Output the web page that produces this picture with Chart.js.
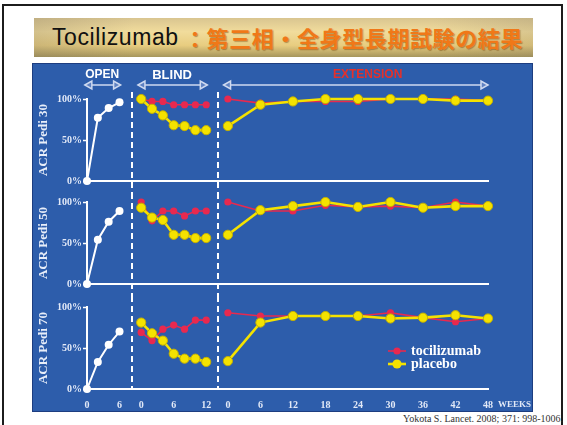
<!DOCTYPE html>
<html lang="ja">
<head>
<meta charset="utf-8">
<title>Tocilizumab：第三相・全身型長期試験の結果</title>
<script src="https://cdn.jsdelivr.net/npm/chart.js@4.4.1/dist/chart.umd.min.js"></script>
<style>
  html, body { margin: 0; padding: 0; background: #fff; }
  body { width: 567px; height: 425px; position: relative; overflow: hidden; }
  .frame {
    position: absolute; left: 2px; top: 4px; width: 557px; height: 460px;
    border: 2px solid #1c1c1c;
  }
  .banner {
    position: absolute; left: 34px; top: 18px; width: 499px; height: 39px;
    background:
      linear-gradient(to right, rgba(120,110,90,0.25), rgba(255,255,255,0) 20%, rgba(255,255,255,0) 80%, rgba(120,110,90,0.2)),
      linear-gradient(to bottom, #d9c590 0%, #f1dc9c 35%, #e8cd80 70%, #a6965c 100%);
    white-space: nowrap; line-height: 39px;
  }
  .banner .en {
    position: absolute; left: 18px; top: 0;
    font-family: "Liberation Sans", Arial, sans-serif; font-size: 23px; letter-spacing: 0.6px; color: #111;
  }
  .banner .ja {
    position: absolute; left: 150px; top: 0;
    font-family: "Noto Sans CJK JP", sans-serif; font-weight: 700; font-size: 22px; letter-spacing: 0.6px; color: #f07818;
    text-shadow: 1px 1px 1px rgba(110,60,0,0.45);
  }
  .panel {
    position: absolute; left: 32px; top: 63px; width: 501px; height: 349px;
    background: #2d5dab; border: 1px solid #1d3d80; box-sizing: border-box;
  }
  canvas { position: absolute; left: 32px; }
  #acr30 { top: 63px; }
  #acr50 { top: 193px; }
  #acr70 { top: 296px; }
  .cite {
    position: absolute; right: 4px; top: 413px;
    font-family: "Liberation Serif", serif; font-size: 10px; color: #333;
  }
</style>
</head>
<body>
<div class="frame"></div>
<div class="banner"><span class="en">Tocilizumab</span><span class="ja">：第三相・全身型長期試験の結果</span></div>
<div class="panel"></div>
<canvas id="acr30" width="501" height="130"></canvas>
<canvas id="acr50" width="501" height="103"></canvas>
<canvas id="acr70" width="501" height="116"></canvas>
<div class="cite">Yokota S. Lancet. 2008; 371: 998-1006.</div>

<script>
// Weeks sampled in each phase
const OPEN_WEEKS  = [0, 2, 4, 6];
const BLIND_WEEKS = [0, 2, 4, 6, 8, 10, 12];
const EXT_WEEKS   = [0, 6, 12, 18, 24, 30, 36, 42, 48];

// Tick labels under each phase
const OPEN_TICKS  = [0, 6];
const BLIND_TICKS = [0, 6, 12];
const EXT_TICKS   = [0, 6, 12, 18, 24, 30, 36, 42, 48];
const PERCENT_TICKS = [0, 50, 100];

const PHASE_NAMES  = ['OPEN', 'BLIND', 'EXTENSION'];
const SERIES_NAMES = ['tocilizumab', 'placebo'];
const PANEL_TITLES = ['ACR Pedi 30', 'ACR Pedi 50', 'ACR Pedi 70'];

// ACR Pedi 30 (%)
const ACR30_OPEN      = [0, 77, 89, 96];
const ACR30_BLIND_TCZ = [100, 97, 97, 93, 93, 93, 93];
const ACR30_BLIND_PBO = [100, 88, 80, 68, 67, 62, 62];
const ACR30_EXT_TCZ   = [100, 95, 97, 97, 97, 100, 100, 100, 98];
const ACR30_EXT_PBO   = [67, 93, 97, 100, 100, 100, 100, 98, 98];

// ACR Pedi 50 (%)
const ACR50_OPEN      = [0, 54, 76, 89];
const ACR50_BLIND_TCZ = [100, 77, 89, 89, 83, 89, 89];
const ACR50_BLIND_PBO = [93, 81, 78, 60, 60, 56, 56];
const ACR50_EXT_TCZ   = [100, 89, 89, 96, 94, 95, 93, 100, 95];
const ACR50_EXT_PBO   = [60, 90, 95, 100, 94, 100, 93, 95, 95];

// ACR Pedi 70 (%)
const ACR70_OPEN      = [0, 33, 54, 70];
const ACR70_BLIND_TCZ = [69, 59, 73, 78, 73, 84, 84];
const ACR70_BLIND_PBO = [81, 68, 59, 43, 37, 37, 33];
const ACR70_EXT_TCZ   = [93, 89, 89, 89, 89, 93, 87, 82, 86];
const ACR70_EXT_PBO   = [34, 81, 89, 89, 89, 86, 87, 90, 86];

// the three phases share one x axis; week 0 of each phase sits here
const PHASE_START = [0, 10, 26];
const X_MAX = 74;
const DIVIDERS = [8.3, 24.2];

const RED    = '#e8294f';
const YELLOW = '#f4e200';
const WHITE  = '#ffffff';
const LABEL  = '#e2e9f7';
const SERIF  = "'Liberation Serif', 'DejaVu Serif', serif";
const SANS   = "'Liberation Sans', Arial, sans-serif";

const xTickLabels = new Map();
[OPEN_TICKS, BLIND_TICKS, EXT_TICKS].forEach((ticks, i) => {
  ticks.forEach(w => xTickLabels.set(w + PHASE_START[i], String(w)));
});

function pts(weeks, values, phase) {
  return weeks.map((w, i) => ({ x: w + PHASE_START[phase], y: values[i] }));
}

function redSet(data) {
  return { label: SERIES_NAMES[0], data, borderColor: RED, backgroundColor: RED, borderWidth: 1.6,
           pointRadius: 3.6, pointBorderWidth: 0, order: 2, clip: false };
}
function yellowSet(data) {
  return { label: SERIES_NAMES[1], data, borderColor: YELLOW, backgroundColor: YELLOW, borderWidth: 2.6,
           pointRadius: 4.6, pointBorderWidth: 1, pointBorderColor: '#c4b000', order: 1, clip: false };
}
function whiteSet(data) {
  return { label: PHASE_NAMES[0], data, borderColor: WHITE, backgroundColor: WHITE, borderWidth: 2,
           pointRadius: 4, pointBorderWidth: 0, order: 0, clip: false };
}

function drawArrow(ctx, x1, x2, y) {
  const head = 7, half = 4;
  ctx.beginPath();
  ctx.moveTo(x1 + head, y); ctx.lineTo(x2 - head, y);
  ctx.stroke();
  [[x1, 1], [x2, -1]].forEach(([tip, dir]) => {
    ctx.beginPath();
    ctx.moveTo(tip, y);
    ctx.lineTo(tip + dir * head, y - half);
    ctx.lineTo(tip + dir * head, y + half);
    ctx.closePath();
    ctx.fill(); ctx.stroke();
  });
}

const panelDecor = {
  id: 'panelDecor',
  beforeDatasetsDraw(chart, args, opts) {
    const { ctx, chartArea, scales: { x } } = chart;
    ctx.save();
    ctx.strokeStyle = WHITE;
    ctx.lineWidth = 2;
    ctx.setLineDash([6, 4]);
    DIVIDERS.forEach(v => {
      const px = Math.round(x.getPixelForValue(v));
      ctx.beginPath();
      ctx.moveTo(px, opts.dividerTop);
      ctx.lineTo(px, opts.toAxis ? chartArea.bottom : chart.height);
      ctx.stroke();
    });
    ctx.restore();
  },
  afterDraw(chart, args, opts) {
    const { ctx, chartArea, scales: { x } } = chart;
    ctx.save();

    if (opts.headers) {
      const spans = [[-0.4, 6.2, 2.8], [9.4, 22.2, 15.7], [25.2, X_MAX, 51.8]];
      spans.forEach(([from, to, at], i) => {
        ctx.font = `bold ${i === 1 ? 13 : 12}px ${SANS}`;
        ctx.fillStyle = i === 2 ? '#e5302a' : WHITE;
        ctx.textAlign = 'center';
        ctx.textBaseline = 'middle';
        ctx.fillText(PHASE_NAMES[i], x.getPixelForValue(at), 12);
        ctx.strokeStyle = '#cfdaf0';
        ctx.fillStyle = '#5f82c2';
        ctx.lineWidth = 1.5;
        drawArrow(ctx, x.getPixelForValue(from), x.getPixelForValue(to), 22);
      });
    }

    if (opts.legend) {
      const lx = 356, rows = [55, 68];
      chart.data.datasets.filter(d => d.order > 0).slice(-2)
        .sort((a, b) => b.order - a.order)
        .forEach((d, i) => {
          const y = rows[i];
          ctx.strokeStyle = d.borderColor;
          ctx.lineWidth = d.borderWidth;
          ctx.beginPath(); ctx.moveTo(lx, y); ctx.lineTo(lx + 18, y); ctx.stroke();
          ctx.fillStyle = d.backgroundColor;
          ctx.beginPath(); ctx.arc(lx + 9, y, d.pointRadius, 0, Math.PI * 2); ctx.fill();
          ctx.fillStyle = WHITE;
          ctx.font = `bold 14px ${SERIF}`;
          ctx.textAlign = 'left';
          ctx.textBaseline = 'middle';
          ctx.fillText(d.label, lx + 23, y);
        });
    }

    if (opts.weeks) {
      ctx.fillStyle = LABEL;
      ctx.font = `bold 9px ${SERIF}`;
      ctx.textAlign = 'left';
      ctx.textBaseline = 'middle';
      ctx.fillText('WEEKS', chartArea.right + 10, chartArea.bottom + 16);
    }
    ctx.restore();
  }
};

function renderPanel(canvasId, idx, sets, layout) {
  const showX = !!layout.xLabels;
  return new Chart(document.getElementById(canvasId), {
    type: 'line',
    data: {
      datasets: [
        whiteSet(pts(OPEN_WEEKS, sets.open, 0)),
        yellowSet(pts(BLIND_WEEKS, sets.blindPbo, 1)),
        redSet(pts(BLIND_WEEKS, sets.blindTcz, 1)),
        yellowSet(pts(EXT_WEEKS, sets.extPbo, 2)),
        redSet(pts(EXT_WEEKS, sets.extTcz, 2)),
      ]
    },
    options: {
      responsive: false,
      animation: false,
      layout: { padding: { top: layout.top, right: 45, bottom: 0, left: 0 } },
      plugins: {
        legend: { display: false },
        tooltip: { enabled: false },
        panelDecor: layout.decor,
      },
      scales: {
        x: {
          type: 'linear', min: 0, max: X_MAX,
          afterFit: s => { s.height = layout.axisHeight; },
          afterBuildTicks: s => { s.ticks = [...xTickLabels.keys()].map(v => ({ value: v })); },
          grid: { display: true, drawOnChartArea: false, drawTicks: false, color: 'transparent' },
          border: { display: true, color: WHITE, width: 2 },
          ticks: {
            display: showX, autoSkip: false, maxRotation: 0, padding: 10,
            color: LABEL, font: { family: SERIF, size: 10, weight: 'bold' },
            callback: v => xTickLabels.get(v) ?? ''
          }
        },
        y: {
          min: 0, max: 100,
          afterFit: s => { s.width = 55; },
          afterBuildTicks: s => { s.ticks = PERCENT_TICKS.map(v => ({ value: v })); },
          grid: { display: true, drawOnChartArea: false, drawTicks: true, tickLength: 4, tickColor: WHITE, tickWidth: 1.5 },
          border: { display: true, color: WHITE, width: 2 },
          ticks: {
            padding: 1, color: LABEL, font: { family: SERIF, size: 10, weight: 'bold' },
            callback: v => v + '%'
          },
          title: {
            display: true, text: PANEL_TITLES[idx], color: '#e8eef9',
            font: { family: SERIF, size: 13, weight: 'bold' },
            padding: { top: 4, bottom: 0 }
          }
        }
      }
    },
    plugins: [panelDecor]
  });
}

renderPanel('acr30', 0,
  { open: ACR30_OPEN, blindTcz: ACR30_BLIND_TCZ, blindPbo: ACR30_BLIND_PBO, extTcz: ACR30_EXT_TCZ, extPbo: ACR30_EXT_PBO },
  { top: 36, axisHeight: 12, decor: { headers: true, dividerTop: 29 } });

renderPanel('acr50', 1,
  { open: ACR50_OPEN, blindTcz: ACR50_BLIND_TCZ, blindPbo: ACR50_BLIND_PBO, extTcz: ACR50_EXT_TCZ, extPbo: ACR50_EXT_PBO },
  { top: 9, axisHeight: 12, decor: { dividerTop: 0 } });

renderPanel('acr70', 2,
  { open: ACR70_OPEN, blindTcz: ACR70_BLIND_TCZ, blindPbo: ACR70_BLIND_PBO, extTcz: ACR70_EXT_TCZ, extPbo: ACR70_EXT_PBO },
  { top: 11, axisHeight: 23, xLabels: true, decor: { dividerTop: 0, toAxis: true, legend: true, weeks: true } });
</script>
</body>
</html>
